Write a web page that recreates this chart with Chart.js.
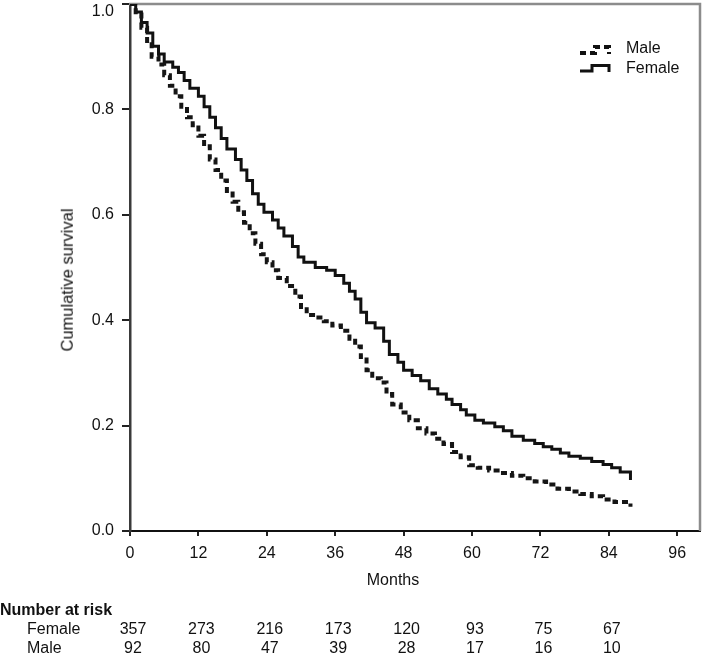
<!DOCTYPE html>
<html><head><meta charset="utf-8">
<script src="https://cdn.jsdelivr.net/npm/chart.js@4.4.1/dist/chart.umd.min.js"></script>
<style>
html,body{margin:0;padding:0;background:#fff;}
#wrap{position:relative;width:709px;height:654px;overflow:hidden;font-family:'Liberation Sans',Arial,sans-serif;color:#111;}
#c{position:absolute;left:0;top:0;}
.t{position:absolute;font-size:16px;white-space:nowrap;line-height:1;}
</style></head><body>
<div id="wrap"><canvas id="c" width="709" height="654"></canvas>
<div class="t" style="left:67px;top:280px;transform:translate(-50%,-50%) rotate(-90deg);font-size:16.5px;">Cumulative survival</div>
<div class="t" style="left:393px;top:580px;transform:translate(-50%,-50%);">Months</div>
<div class="t" style="left:0;top:610px;transform:translateY(-50%);font-weight:bold;">Number at risk</div>
<div class="t" id="rowF" style="left:27px;top:629px;transform:translateY(-50%);">Female</div>
<div class="t" id="rowM" style="left:27px;top:648px;transform:translateY(-50%);">Male</div>
</div>
<script>
const xTicks = [0, 12, 24, 36, 48, 60, 72, 84, 96];
const yTicks = [0, 0.2, 0.4, 0.6, 0.8, 1.0];

const femaleMonths = [0, 1, 2, 3, 4, 5, 6, 7.5, 8.5, 9.5, 10.5, 12, 13, 14, 15, 16, 17, 18.5, 19.5, 20.5, 21.5, 22.5, 23.5, 25, 26, 27, 28.5, 29.5, 30.5, 32.5, 34.5, 36, 37.5, 38.5, 39.5, 40.5, 41.5, 43, 44.5, 45.5, 47, 48, 49.5, 51, 52.5, 54, 55.5, 56.5, 58, 59, 60.5, 62, 64, 65.5, 67, 69, 71, 72.5, 74, 75.5, 77, 79, 81, 83, 84.5, 86, 87.8];
const femaleSurvival = [1.0, 0.985, 0.965, 0.945, 0.92, 0.905, 0.89, 0.88, 0.87, 0.855, 0.84, 0.825, 0.805, 0.785, 0.765, 0.745, 0.725, 0.705, 0.685, 0.665, 0.64, 0.62, 0.605, 0.59, 0.575, 0.56, 0.54, 0.52, 0.51, 0.50, 0.495, 0.485, 0.47, 0.455, 0.44, 0.415, 0.395, 0.385, 0.36, 0.335, 0.32, 0.305, 0.295, 0.285, 0.27, 0.26, 0.25, 0.24, 0.23, 0.22, 0.21, 0.205, 0.198, 0.19, 0.18, 0.172, 0.166, 0.16, 0.155, 0.148, 0.142, 0.138, 0.132, 0.126, 0.12, 0.112, 0.097];

const maleMonths = [0, 1, 2, 3, 3.8, 5, 6, 7, 8, 9, 10, 11, 12, 13, 14, 15, 16, 17, 18, 19, 20, 21, 22, 23, 24, 25, 26, 27.5, 29, 30, 31, 32.5, 34, 35.5, 37, 38.5, 39.5, 40.5, 41.5, 42.5, 44, 45, 46, 47.5, 49, 50.5, 52, 53.5, 55, 56.5, 58, 59.5, 61, 63, 65, 67, 69, 71, 73, 75, 77, 79, 81, 83, 85, 87.8];
const maleSurvival = [1.0, 0.98, 0.955, 0.93, 0.90, 0.885, 0.865, 0.845, 0.825, 0.805, 0.785, 0.77, 0.75, 0.73, 0.705, 0.685, 0.665, 0.645, 0.625, 0.605, 0.585, 0.565, 0.545, 0.525, 0.51, 0.495, 0.48, 0.465, 0.445, 0.425, 0.41, 0.405, 0.398, 0.39, 0.38, 0.365, 0.35, 0.33, 0.305, 0.29, 0.282, 0.26, 0.24, 0.225, 0.21, 0.195, 0.185, 0.175, 0.165, 0.15, 0.14, 0.125, 0.12, 0.115, 0.11, 0.105, 0.10, 0.094, 0.088, 0.08, 0.075, 0.07, 0.066, 0.06, 0.055, 0.046];

const atRiskMonths = [0, 12, 24, 36, 48, 60, 72, 84];
const atRiskFemale = [357, 273, 216, 173, 120, 93, 75, 67];
const atRiskMale = [92, 80, 47, 39, 28, 17, 16, 10];

const FONT = "'Liberation Sans', Arial, sans-serif";
const INK = '#111';

const framePlugin = {
  id: 'frame',
  beforeDatasetsDraw(chart) {
    const a = chart.chartArea, ctx = chart.ctx;
    ctx.save();
    ctx.strokeStyle = '#8c8c8c';
    ctx.lineWidth = 2.5;
    ctx.beginPath();
    ctx.moveTo(a.left - 1, a.top);
    ctx.lineTo(a.right, a.top);
    ctx.lineTo(a.right, a.bottom);
    ctx.stroke();
    ctx.restore();
  }
};

const topLabelPlugin = {
  id: 'topLabel',
  beforeDraw(chart) {
    const items = chart.scales.y.getLabelItems();
    items.forEach(it => {
      if (it.label === '1.0' && !it._shifted) { it.options.translation[1] += 8; it._shifted = true; }
    });
  }
};

const legendPlugin = {
  id: 'kmLegend',
  afterDraw(chart) {
    const ctx = chart.ctx;
    const ds = chart.data.datasets;
    ctx.save();
    ctx.strokeStyle = INK;
    ctx.lineCap = 'butt';
    ctx.lineWidth = 4;
    ctx.setLineDash([6, 4]);
    ctx.beginPath();
    ctx.moveTo(580, 53); ctx.lineTo(595, 53); ctx.lineTo(595, 47); ctx.lineTo(609, 47); ctx.lineTo(609, 54);
    ctx.stroke();
    ctx.setLineDash([]);
    ctx.lineWidth = 3;
    ctx.beginPath();
    ctx.moveTo(580, 71); ctx.lineTo(592, 71); ctx.lineTo(592, 65.5); ctx.lineTo(609, 65.5); ctx.lineTo(609, 72);
    ctx.stroke();
    ctx.fillStyle = INK;
    ctx.font = '16px ' + FONT;
    ctx.textBaseline = 'middle';
    ctx.textAlign = 'left';
    ctx.fillText(ds[0].label, 626, 49);
    ctx.fillText(ds[1].label, 626, 68.5);
    ctx.restore();
  }
};

const chart = new Chart(document.getElementById('c'), {
  type: 'line',
  data: {
    datasets: [
      { label: 'Male', data: maleMonths.map((t, i) => ({ x: t, y: maleSurvival[i] })),
        borderColor: '#151515', borderWidth: 4, borderDash: [6, 4], borderCapStyle: 'butt',
        stepped: true, pointRadius: 0, fill: false },
      { label: 'Female', data: femaleMonths.map((t, i) => ({ x: t, y: femaleSurvival[i] })),
        borderColor: INK, borderWidth: 3, stepped: true, pointRadius: 0, fill: false }
    ]
  },
  options: {
    responsive: false, animation: false, devicePixelRatio: 1,
    layout: { padding: { left: 0, right: 9, top: 4, bottom: 0 } },
    plugins: { legend: { display: false }, tooltip: { enabled: false } },
    scales: {
      x: {
        type: 'linear', min: 0, max: 100,
        afterBuildTicks: s => { s.ticks = xTicks.map(v => ({ value: v })); },
        afterFit: s => { s.height = 123; s.paddingLeft = 0; s.paddingRight = 0; },
        ticks: { color: INK, font: { family: FONT, size: 16 }, padding: 8, autoSkip: false, maxRotation: 0 },
        grid: { display: true, drawOnChartArea: false, drawTicks: true, tickLength: 5, color: '#222', lineWidth: 2 },
        border: { display: true, color: INK, width: 2 }
      },
      y: {
        min: 0, max: 1,
        afterBuildTicks: s => { s.ticks = yTicks.map(v => ({ value: v })); },
        afterFit: s => { s.width = 130; s.paddingTop = 0; s.paddingBottom = 0; },
        ticks: { color: INK, font: { family: FONT, size: 16 }, padding: 8, callback: v => Number(v).toFixed(1) },
        grid: { display: true, drawOnChartArea: false, drawTicks: true, tickLength: 8, color: '#222', lineWidth: 2 },
        border: { display: true, color: '#3a3a3a', width: 2.5 }
      }
    }
  },
  plugins: [framePlugin, topLabelPlugin, legendPlugin]
});

const wrap = document.getElementById('wrap');
function addRow(values, top) {
  values.forEach((v, i) => {
    const d = document.createElement('div');
    d.className = 't';
    d.textContent = String(v);
    d.style.left = (chart.scales.x.getPixelForValue(atRiskMonths[i]) + 3) + 'px';
    d.style.top = top + 'px';
    d.style.transform = 'translate(-50%,-50%)';
    wrap.appendChild(d);
  });
}
addRow(atRiskFemale, 629);
addRow(atRiskMale, 648);
</script>
</body></html>
